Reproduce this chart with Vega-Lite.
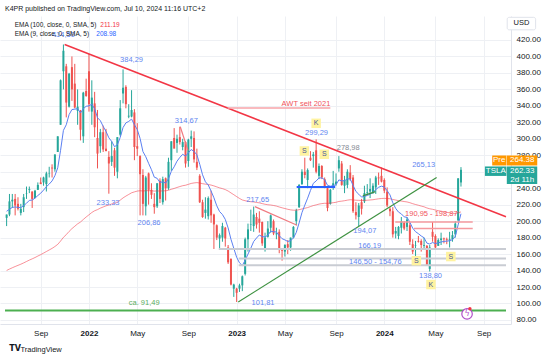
{
  "$schema": "https://vega.github.io/schema/vega-lite/v6.json",
  "width": 511,
  "height": 308,
  "autosize": {"type": "none"},
  "padding": {"left": 0, "top": 16, "right": 39, "bottom": 32},
  "background": "#ffffff",
  "title": {"text": "K4PR published on TradingView.com, Jul 10, 2024 11:16 UTC+2", "anchor": "start", "frame": "group", "fontSize": 7, "fontWeight": "normal", "color": "#131722", "font": "Liberation Sans", "dx": 5, "offset": 4},
  "config": {
    "view": {"stroke": null},
    "text": {"font": "Liberation Sans"},
    "axis": {"labelFont": "Liberation Sans", "titleFont": "Liberation Sans"}
  },
  "resolve": {"scale": {"color": "independent"}},
  "datasets": {
    "candles": [
      {"d":"2021-06-14","o":204,"h":208,"l":194,"c":208,"e9":212.0,"e100":140.1},
      {"d":"2021-06-21","o":208,"h":233,"l":206,"c":224,"e9":214.4,"e100":141.8},
      {"d":"2021-06-28","o":224,"h":233,"l":216,"c":226,"e9":216.7,"e100":143.4},
      {"d":"2021-07-05","o":227,"h":233,"l":207,"c":219,"e9":217.2,"e100":144.9},
      {"d":"2021-07-12","o":221,"h":229,"l":213,"c":215,"e9":216.8,"e100":146.3},
      {"d":"2021-07-19","o":210,"h":221,"l":207,"c":215,"e9":216.4,"e100":147.7},
      {"d":"2021-07-26","o":217,"h":233,"l":211,"c":229,"e9":218.9,"e100":149.3},
      {"d":"2021-08-02","o":233,"h":242,"l":227,"c":233.5,"e9":221.7,"e100":151.0},
      {"d":"2021-08-09","o":238,"h":242,"l":234,"c":239,"e9":225.2,"e100":152.7},
      {"d":"2021-08-16","o":236,"h":236,"l":216,"c":227,"e9":225.6,"e100":154.2},
      {"d":"2021-08-23","o":228,"h":238,"l":228,"c":237,"e9":227.9,"e100":155.8},
      {"d":"2021-08-30","o":238,"h":247,"l":238,"c":244,"e9":231.1,"e100":157.6},
      {"d":"2021-09-06","o":247,"h":253,"l":245,"c":245,"e9":233.9,"e100":159.3},
      {"d":"2021-09-13","o":247,"h":254,"l":243,"c":253,"e9":237.7,"e100":161.2},
      {"d":"2021-09-20","o":245,"h":260,"l":236,"c":258,"e9":241.8,"e100":163.1},
      {"d":"2021-09-27","o":258,"h":266,"l":253,"c":258.5,"e9":245.0,"e100":165.0},
      {"d":"2021-10-04","o":265,"h":269,"l":253,"c":264,"e9":248.8,"e100":166.9},
      {"d":"2021-10-11","o":263,"h":281,"l":260,"c":281,"e9":255.2,"e100":169.2},
      {"d":"2021-10-18","o":284,"h":303,"l":284,"c":303,"e9":264.8,"e100":171.8},
      {"d":"2021-10-25","o":317,"h":372,"l":317,"c":371,"e9":286.0,"e100":175.8},
      {"d":"2021-11-01","o":382,"h":414.5,"l":360,"c":407,"e9":310.2,"e100":180.3},
      {"d":"2021-11-08","o":388,"h":391,"l":326,"c":344,"e9":317.0,"e100":183.6},
      {"d":"2021-11-15","o":339,"h":380,"l":338,"c":379,"e9":329.4,"e100":187.5},
      {"d":"2021-11-22","o":387,"h":400,"l":346,"c":360,"e9":335.5,"e100":190.9},
      {"d":"2021-11-29","o":367,"h":391,"l":337,"c":338,"e9":336.0,"e100":193.8},
      {"d":"2021-12-06","o":334,"h":360,"l":317,"c":339,"e9":336.6,"e100":196.7},
      {"d":"2021-12-13","o":334,"h":335,"l":298,"c":311,"e9":331.5,"e100":198.9},
      {"d":"2021-12-20","o":303,"h":357,"l":295,"c":356,"e9":336.4,"e100":202.0},
      {"d":"2021-12-27","o":358,"h":373,"l":351,"c":352,"e9":339.5,"e100":205.0},
      {"d":"2022-01-03","o":382,"h":403,"l":333,"c":342,"e9":340.0,"e100":207.7},
      {"d":"2022-01-10","o":333,"h":371,"l":317,"c":350,"e9":342.0,"e100":210.5},
      {"d":"2022-01-17","o":343,"h":357,"l":302,"c":314,"e9":336.4,"e100":212.6},
      {"d":"2022-01-24","o":301,"h":335,"l":264,"c":282,"e9":325.5,"e100":214.0},
      {"d":"2022-01-31","o":291,"h":312,"l":283,"c":308,"e9":322.0,"e100":215.8},
      {"d":"2022-02-07","o":308,"h":316,"l":284,"c":287,"e9":315.0,"e100":217.2},
      {"d":"2022-02-14","o":288,"h":312,"l":285,"c":285,"e9":309.0,"e100":218.6},
      {"d":"2022-02-21","o":278,"h":285,"l":233.33,"c":270,"e9":301.2,"e100":219.6},
      {"d":"2022-02-28","o":272,"h":297,"l":267,"c":279,"e9":296.8,"e100":220.8},
      {"d":"2022-03-07","o":286,"h":289,"l":255,"c":265,"e9":290.4,"e100":221.6},
      {"d":"2022-03-14","o":260,"h":302,"l":252,"c":302,"e9":292.7,"e100":223.2},
      {"d":"2022-03-21","o":305,"h":347,"l":303,"c":337,"e9":301.6,"e100":225.5},
      {"d":"2022-03-28","o":355,"h":384.29,"l":343,"c":362,"e9":313.7,"e100":228.2},
      {"d":"2022-04-04","o":363,"h":365,"l":337,"c":342,"e9":319.3,"e100":230.4},
      {"d":"2022-04-11","o":327,"h":342,"l":325,"c":328,"e9":321.1,"e100":232.4},
      {"d":"2022-04-18","o":327,"h":359,"l":326,"c":335,"e9":323.9,"e100":234.4},
      {"d":"2022-04-25","o":332,"h":336,"l":274,"c":290,"e9":317.1,"e100":235.5},
      {"d":"2022-05-02","o":291,"h":319,"l":279,"c":288,"e9":311.3,"e100":236.5},
      {"d":"2022-05-09","o":279,"h":280,"l":207,"c":257,"e9":300.4,"e100":236.9},
      {"d":"2022-05-16","o":256,"h":263,"l":207,"c":221,"e9":284.5,"e100":236.6},
      {"d":"2022-05-23","o":218,"h":255,"l":206.86,"c":253,"e9":278.2,"e100":236.9},
      {"d":"2022-05-30","o":258,"h":259,"l":220,"c":238,"e9":270.2,"e100":237.0},
      {"d":"2022-06-06","o":238,"h":246,"l":227,"c":232,"e9":262.5,"e100":236.9},
      {"d":"2022-06-13","o":221,"h":234,"l":209,"c":217,"e9":253.4,"e100":236.5},
      {"d":"2022-06-20","o":218,"h":246,"l":216,"c":246,"e9":252.0,"e100":236.7},
      {"d":"2022-06-27","o":249,"h":252,"l":222,"c":227,"e9":247.0,"e100":236.5},
      {"d":"2022-07-04","o":223,"h":254,"l":220,"c":251,"e9":247.8,"e100":236.8},
      {"d":"2022-07-11","o":252,"h":253,"l":225,"c":240,"e9":246.2,"e100":236.8},
      {"d":"2022-07-18","o":240,"h":277,"l":238,"c":272,"e9":251.4,"e100":237.5},
      {"d":"2022-07-25","o":274,"h":297,"l":261,"c":297,"e9":260.5,"e100":238.7},
      {"d":"2022-08-01","o":301,"h":313,"l":294,"c":288,"e9":266.0,"e100":239.7},
      {"d":"2022-08-08","o":295,"h":305,"l":283,"c":300,"e9":272.8,"e100":240.9},
      {"d":"2022-08-15","o":302,"h":314.67,"l":293,"c":296,"e9":277.4,"e100":242.0},
      {"d":"2022-08-22","o":290,"h":300,"l":286,"c":296,"e9":281.2,"e100":243.0},
      {"d":"2022-08-29","o":296,"h":297,"l":265,"c":270,"e9":278.9,"e100":243.6},
      {"d":"2022-09-05","o":273,"h":300,"l":266,"c":299,"e9":282.9,"e100":244.7},
      {"d":"2022-09-12","o":300,"h":310,"l":290,"c":303,"e9":287.0,"e100":245.8},
      {"d":"2022-09-19","o":301,"h":309,"l":271,"c":275,"e9":284.6,"e100":246.4},
      {"d":"2022-09-26","o":272,"h":288,"l":262,"c":265,"e9":280.6,"e100":246.8},
      {"d":"2022-10-03","o":255,"h":257,"l":222,"c":223,"e9":269.1,"e100":246.3},
      {"d":"2022-10-10","o":223,"h":226,"l":204,"c":205,"e9":256.3,"e100":245.5},
      {"d":"2022-10-17","o":210,"h":229,"l":203,"c":214,"e9":247.8,"e100":244.9},
      {"d":"2022-10-24","o":206,"h":230,"l":202,"c":228,"e9":243.9,"e100":244.5},
      {"d":"2022-10-31","o":226,"h":237,"l":198,"c":207,"e9":236.5,"e100":243.8},
      {"d":"2022-11-07","o":208,"h":209,"l":166.19,"c":196,"e9":228.4,"e100":242.8},
      {"d":"2022-11-14","o":195,"h":196,"l":177,"c":180,"e9":218.7,"e100":241.6},
      {"d":"2022-11-21","o":179,"h":185,"l":167,"c":183,"e9":211.6,"e100":240.4},
      {"d":"2022-11-28","o":180,"h":198,"l":175,"c":194,"e9":208.0,"e100":239.5},
      {"d":"2022-12-05","o":192,"h":193,"l":169,"c":179,"e9":202.2,"e100":238.3},
      {"d":"2022-12-12","o":168,"h":171,"l":148,"c":150,"e9":191.8,"e100":236.6},
      {"d":"2022-12-19","o":154,"h":155,"l":122,"c":123,"e9":178.0,"e100":234.3},
      {"d":"2022-12-26","o":118,"h":124,"l":108,"c":123,"e9":167.0,"e100":232.1},
      {"d":"2023-01-02","o":118,"h":119,"l":101.81,"c":113,"e9":156.2,"e100":229.8},
      {"d":"2023-01-09","o":118,"h":124,"l":114,"c":122,"e9":149.4,"e100":227.6},
      {"d":"2023-01-16","o":122,"h":134,"l":115,"c":133,"e9":146.1,"e100":225.7},
      {"d":"2023-01-23","o":136,"h":180,"l":134,"c":178,"e9":152.5,"e100":224.8},
      {"d":"2023-01-30","o":178,"h":197,"l":163,"c":190,"e9":160.0,"e100":224.1},
      {"d":"2023-02-06","o":196,"h":214,"l":188,"c":196.5,"e9":167.2,"e100":223.6},
      {"d":"2023-02-13","o":194,"h":217.65,"l":187,"c":208,"e9":175.3,"e100":223.3},
      {"d":"2023-02-20","o":205,"h":210,"l":191,"c":196,"e9":179.5,"e100":222.7},
      {"d":"2023-02-27","o":203,"h":212,"l":186,"c":198,"e9":183.2,"e100":222.2},
      {"d":"2023-03-06","o":199,"h":199.5,"l":170,"c":173,"e9":181.1,"e100":221.3},
      {"d":"2023-03-13","o":167,"h":186,"l":163,"c":180,"e9":180.9,"e100":220.5},
      {"d":"2023-03-20","o":181,"h":200,"l":180,"c":191,"e9":182.9,"e100":219.9},
      {"d":"2023-03-27","o":192,"h":208,"l":186,"c":207,"e9":187.8,"e100":219.6},
      {"d":"2023-04-03","o":200,"h":202,"l":183,"c":185,"e9":187.2,"e100":219.0},
      {"d":"2023-04-10","o":184,"h":192,"l":178,"c":185,"e9":186.8,"e100":218.3},
      {"d":"2023-04-17","o":187,"h":190,"l":161,"c":165,"e9":182.4,"e100":217.2},
      {"d":"2023-04-24","o":165,"h":166,"l":152,"c":164,"e9":178.7,"e100":216.2},
      {"d":"2023-05-01","o":163,"h":172,"l":157,"c":171,"e9":177.2,"e100":215.3},
      {"d":"2023-05-08","o":172,"h":177,"l":160,"c":168,"e9":175.3,"e100":214.4},
      {"d":"2023-05-15","o":168,"h":180,"l":164,"c":180,"e9":176.3,"e100":213.7},
      {"d":"2023-05-22","o":180,"h":194,"l":179,"c":193,"e9":179.6,"e100":213.3},
      {"d":"2023-05-29","o":200,"h":215,"l":195,"c":213,"e9":186.3,"e100":213.3},
      {"d":"2023-06-05","o":217,"h":245,"l":216,"c":244,"e9":197.8,"e100":213.9},
      {"d":"2023-06-12","o":245,"h":263,"l":244,"c":260,"e9":210.3,"e100":214.8},
      {"d":"2023-06-19","o":260,"h":277,"l":252,"c":256,"e9":219.4,"e100":215.6},
      {"d":"2023-06-26","o":250,"h":264,"l":240,"c":262,"e9":227.9,"e100":216.5},
      {"d":"2023-07-03","o":277,"h":285,"l":273,"c":274,"e9":237.2,"e100":217.7},
      {"d":"2023-07-10","o":279,"h":284,"l":265,"c":281,"e9":245.9,"e100":218.9},
      {"d":"2023-07-17","o":286,"h":299.29,"l":258,"c":260,"e9":248.8,"e100":219.7},
      {"d":"2023-07-24","o":255,"h":270,"l":251,"c":267,"e9":252.4,"e100":220.7},
      {"d":"2023-07-31","o":267,"h":268,"l":251,"c":253,"e9":252.5,"e100":221.3},
      {"d":"2023-08-07","o":251,"h":253,"l":240,"c":242,"e9":250.4,"e100":221.7},
      {"d":"2023-08-14","o":240,"h":242,"l":212,"c":216,"e9":243.5,"e100":221.6},
      {"d":"2023-08-21","o":221,"h":239,"l":220,"c":238,"e9":242.4,"e100":221.9},
      {"d":"2023-08-28","o":242,"h":261,"l":238,"c":246,"e9":243.2,"e100":222.4},
      {"d":"2023-09-04","o":245,"h":258,"l":243,"c":248,"e9":244.1,"e100":222.9},
      {"d":"2023-09-11","o":264,"h":278.98,"l":260,"c":274,"e9":250.1,"e100":223.9},
      {"d":"2023-09-18","o":270,"h":273,"l":243,"c":244,"e9":248.9,"e100":224.3},
      {"d":"2023-09-25","o":243,"h":255,"l":234,"c":250,"e9":249.1,"e100":224.8},
      {"d":"2023-10-02","o":244,"h":263,"l":240,"c":260,"e9":251.3,"e100":225.5},
      {"d":"2023-10-09","o":259,"h":268,"l":249,"c":251,"e9":251.2,"e100":226.0},
      {"d":"2023-10-16","o":253,"h":256,"l":210,"c":212,"e9":243.4,"e100":225.8},
      {"d":"2023-10-23","o":211,"h":223,"l":202,"c":207,"e9":236.1,"e100":225.4},
      {"d":"2023-10-30","o":205,"h":222,"l":194.07,"c":219,"e9":232.7,"e100":225.3},
      {"d":"2023-11-06","o":223,"h":227,"l":208,"c":215,"e9":229.2,"e100":225.1},
      {"d":"2023-11-13","o":224,"h":243,"l":222,"c":234,"e9":230.1,"e100":225.2},
      {"d":"2023-11-20","o":234,"h":245,"l":232,"c":235,"e9":231.1,"e100":225.4},
      {"d":"2023-11-27","o":236,"h":252,"l":228,"c":239,"e9":232.7,"e100":225.7},
      {"d":"2023-12-04","o":235,"h":246,"l":233,"c":243,"e9":234.8,"e100":226.0},
      {"d":"2023-12-11","o":241,"h":255,"l":233,"c":253,"e9":238.4,"e100":226.6},
      {"d":"2023-12-18","o":253,"h":259,"l":244,"c":252,"e9":241.1,"e100":227.1},
      {"d":"2023-12-25","o":255,"h":265.13,"l":247,"c":248,"e9":242.5,"e100":227.5},
      {"d":"2024-01-01","o":250,"h":252,"l":234,"c":237,"e9":241.4,"e100":227.7},
      {"d":"2024-01-08","o":236,"h":241,"l":217,"c":219,"e9":236.9,"e100":227.5},
      {"d":"2024-01-15","o":215,"h":217,"l":206,"c":212,"e9":231.9,"e100":227.2},
      {"d":"2024-01-22","o":212,"h":217,"l":180,"c":184,"e9":222.3,"e100":226.3},
      {"d":"2024-01-29","o":185,"h":193,"l":179,"c":188,"e9":215.5,"e100":225.6},
      {"d":"2024-02-05","o":182,"h":194,"l":178,"c":193,"e9":211.0,"e100":224.9},
      {"d":"2024-02-12","o":192,"h":205,"l":185,"c":200,"e9":208.8,"e100":224.4},
      {"d":"2024-02-19","o":198,"h":200,"l":189,"c":191,"e9":205.2,"e100":223.8},
      {"d":"2024-02-26","o":193,"h":205,"l":188,"c":202,"e9":204.6,"e100":223.3},
      {"d":"2024-03-04","o":195,"h":198,"l":171,"c":175,"e9":198.7,"e100":222.4},
      {"d":"2024-03-11","o":172,"h":178,"l":160,"c":163,"e9":191.5,"e100":221.2},
      {"d":"2024-03-18","o":170,"h":176,"l":157,"c":170.5,"e9":187.2,"e100":220.2},
      {"d":"2024-03-25","o":176,"h":182,"l":174,"c":175,"e9":184.8,"e100":219.3},
      {"d":"2024-04-01","o":176,"h":178,"l":163,"c":171,"e9":182.0,"e100":218.3},
      {"d":"2024-04-08","o":170,"h":180,"l":167,"c":171,"e9":179.8,"e100":217.4},
      {"d":"2024-04-15","o":170,"h":171,"l":146,"c":147,"e9":173.3,"e100":216.0},
      {"d":"2024-04-22","o":142,"h":171,"l":138.8,"c":168,"e9":172.2,"e100":215.0},
      {"d":"2024-04-29","o":187,"h":198.87,"l":175,"c":181,"e9":174.0,"e100":214.4},
      {"d":"2024-05-06","o":182,"h":184,"l":167,"c":168,"e9":172.8,"e100":213.5},
      {"d":"2024-05-13","o":170,"h":179,"l":170,"c":177,"e9":173.6,"e100":212.7},
      {"d":"2024-05-20","o":177,"h":186,"l":171,"c":179,"e9":174.7,"e100":212.1},
      {"d":"2024-05-27","o":179,"h":180,"l":173,"c":178,"e9":175.4,"e100":211.4},
      {"d":"2024-06-03","o":178,"h":180,"l":172,"c":177,"e9":175.7,"e100":210.7},
      {"d":"2024-06-10","o":177,"h":187,"l":168,"c":178,"e9":176.2,"e100":210.1},
      {"d":"2024-06-17","o":178,"h":188,"l":175,"c":183,"e9":177.5,"e100":209.5},
      {"d":"2024-06-24","o":184,"h":200,"l":180,"c":197,"e9":181.4,"e100":209.3},
      {"d":"2024-07-01","o":201,"h":252,"l":200,"c":252,"e9":195.5,"e100":210.1},
      {"d":"2024-07-08","o":247,"h":265.6,"l":242,"c":262.33,"e9":208.98,"e100":211.19}
    ],
    "segs": [
      {"k":"trend","d":"2021-11-04","p":414.5,"d2":"2024-10-27","p2":205.4},
      {"k":"up","d":"2023-01-06","p":101.81,"d2":"2024-05-09","p2":253},
      {"k":"thin","d":"2022-08-16","p":314.67,"d2":"2022-09-04","p2":286},
      {"k":"thin","d":"2023-02-16","p":217.65,"d2":"2023-05-31","p2":195},
      {"k":"blue","d":"2023-05-30","p":241.5,"d2":"2023-09-02","p2":241.5},
      {"k":"green","d":"2023-11-09","p":230.6,"d2":"2023-12-10","p2":235.8},
      {"k":"awt","d":"2022-12-11","p":337.4,"d2":"2023-08-21","p2":337.4},
      {"k":"zone","d":"2024-01-28","p":198.87,"d2":"2024-08-06","p2":198.87},
      {"k":"zone","d":"2024-03-14","p":190.95,"d2":"2024-08-06","p2":190.95},
      {"k":"grey","d":"2022-11-19","p":166.19,"d2":"2024-10-27","p2":166.19},
      {"k":"grey","d":"2023-01-07","p":154.76,"d2":"2024-10-27","p2":154.76},
      {"k":"grey","d":"2023-01-07","p":146.5,"d2":"2024-10-27","p2":146.5},
      {"k":"base","d":"2021-06-10","p":91.49,"d2":"2024-10-27","p2":91.49}
    ],
    "labels": [
      {"t":"414,50","d":"2021-11-01","p":425.5,"k":"b"},
      {"t":"384,29","d":"2022-04-18","p":395.7,"k":"b"},
      {"t":"314,67","d":"2022-08-31","p":321.6,"k":"b"},
      {"t":"233,33","d":"2022-02-19","p":222,"k":"b"},
      {"t":"206,86","d":"2022-05-31","p":197.8,"k":"b"},
      {"t":"217,65","d":"2023-02-23","p":225.7,"k":"b"},
      {"t":"101,81","d":"2023-03-08","p":100.6,"k":"b"},
      {"t":"299,29","d":"2023-07-18","p":307,"k":"b"},
      {"t":"278,98","d":"2023-10-04","p":288.9,"k":"g"},
      {"t":"194,07","d":"2023-11-14","p":188.1,"k":"b"},
      {"t":"166,19","d":"2023-11-26","p":169.9,"k":"b"},
      {"t":"146,50 - 154,76","d":"2023-12-10","p":150.4,"k":"b"},
      {"t":"190,95 - 198,87","d":"2024-04-26","p":208.7,"k":"r"},
      {"t":"265,13","d":"2024-04-07","p":268.2,"k":"b"},
      {"t":"138,80","d":"2024-04-24","p":133.4,"k":"b"},
      {"t":"AWT seit 2021","d":"2023-06-22","p":342.3,"k":"r"},
      {"t":"ca. 91,49","d":"2022-05-19","p":100.6,"k":"gr"}
    ],
    "tags": [
      {"t":"S","d":"2023-06-18","p":285.2},
      {"t":"K","d":"2023-07-17","p":318.8},
      {"t":"S","d":"2023-08-06","p":281.2},
      {"t":"S","d":"2024-03-20","p":152},
      {"t":"K","d":"2024-04-25","p":123},
      {"t":"S","d":"2024-06-13","p":157}
    ],
    "legend": [
      {"t":"EMA (100, close, 0, SMA, 5)","d":"2021-07-04","p":438.2,"k":"n"},
      {"t":"211.19","d":"2022-01-31","p":438.2,"k":"v1"},
      {"t":"EMA (9, close, 0, SMA, 5)","d":"2021-07-04","p":427.3,"k":"n"},
      {"t":"208.98","d":"2022-01-21","p":427.3,"k":"v2"}
    ],
    "boxes": [
      {"k":"pre","d":"2024-09-23","d2":"2024-10-28","p":279.7,"p2":267.6},
      {"k":"pre","d":"2024-10-29","d2":"2025-01-12","p":279.7,"p2":267.6},
      {"k":"last","d":"2024-09-05","d2":"2024-10-28","p":266.4,"p2":254.9},
      {"k":"last","d":"2024-10-29","d2":"2025-01-12","p":266.4,"p2":245.1}
    ],
    "boxtext": [
      {"t":"Pre","d":"2024-10-10","p":273.7},
      {"t":"264.38","d":"2024-12-06","p":273.7},
      {"t":"TSLA","d":"2024-10-02","p":260.7},
      {"t":"262.33","d":"2024-12-06","p":260.7},
      {"t":"2d 11h","d":"2024-12-06","p":250.3}
    ],
    "usd": [
      {"t":"USD","d":"2024-10-30","d2":"2025-01-08","p":447.5,"p2":432.3,"dm":"2024-12-04","pm":440}
    ],
    "events": [
      {"d":"2024-07-23","p":87.3,"t":"ϟ"}
    ],
    "eventdot": [
      {"d":"2024-07-30","p":93.6}
    ],
    "logo": [
      {"d":"2021-07-05","p":44.8,"t":"TV"}
    ]
  },
  "layer": [
    {
      "data": {"name": "candles"},
      "mark": {"type": "rule", "strokeWidth": 1},
      "encoding": {
        "x": {"field": "d", "type": "temporal",
          "scale": {"type": "utc", "domain": [{"year":2021,"month":6,"date":10,"utc":true},{"year":2024,"month":10,"date":27,"utc":true}]},
          "axis": {
            "values": [{"year":2021,"month":9,"date":6,"utc":true},{"year":2022,"month":1,"date":3,"utc":true},{"year":2022,"month":5,"date":2,"utc":true},{"year":2022,"month":9,"date":5,"utc":true},{"year":2023,"month":1,"date":2,"utc":true},{"year":2023,"month":5,"date":1,"utc":true},{"year":2023,"month":9,"date":4,"utc":true},{"year":2024,"month":1,"date":1,"utc":true},{"year":2024,"month":5,"date":6,"utc":true},{"year":2024,"month":9,"date":2,"utc":true}],
            "tickCount": 40,
            "labelExpr": "utcmonth(datum.value) == 0 ? utcFormat(datum.value, '%Y') : utcFormat(datum.value, '%b')",
            "labelFontWeight": {"condition": {"test": "utcmonth(datum.value) == 0", "value": "bold"}, "value": "normal"},
            "labelFontSize": 8, "labelColor": "#131722", "labelPadding": 5, "labelFlush": false, "labelOverlap": false,
            "ticks": false, "domainColor": "#e0e3eb", "gridColor": "#eef0f4", "grid": true,
            "title": "TradingView", "titleFontSize": 7.5, "titleFontWeight": "normal", "titleColor": "#131722",
            "titleAnchor": "start", "titleAlign": "left", "titleX": 20, "titleY": 25, "titleBaseline": "middle"
          }
        },
        "y": {"field": "l", "type": "quantitative",
          "scale": {"domain": [75.1, 449.1], "zero": false, "nice": false},
          "axis": {
            "orient": "right", "values": [80,100,120,140,160,180,200,220,240,260,280,300,320,340,360,380,400,420],
            "tickCount": 40,
            "labelExpr": "datum.value == 260 ? '' : format(datum.value, '.2f')",
            "title": null, "ticks": false, "domainColor": "#e0e3eb", "gridColor": "#eef0f4",
            "labelFontSize": 8, "labelColor": "#131722", "labelPadding": 5, "labelOverlap": false, "labelFlush": false
          }
        },
        "y2": {"field": "h"},
        "color": {"condition": {"test": "datum.c >= datum.o", "value": "#26a69a"}, "value": "#ef5350"}
      }
    },
    {
      "data": {"name": "candles"},
      "mark": {"type": "bar", "size": 2},
      "encoding": {
        "x": {"field": "d", "type": "temporal"},
        "y": {"field": "o", "type": "quantitative"},
        "y2": {"field": "c"},
        "color": {"condition": {"test": "datum.c >= datum.o", "value": "#26a69a"}, "value": "#ef5350"}
      }
    },
    {
      "data": {"name": "candles"},
      "mark": {"type": "line", "stroke": "#f23645", "strokeWidth": 1, "opacity": 0.55},
      "encoding": {
        "x": {"field": "d", "type": "temporal"},
        "y": {"field": "e100", "type": "quantitative"}
      }
    },
    {
      "data": {"name": "candles"},
      "mark": {"type": "line", "stroke": "#5b80f2", "strokeWidth": 1},
      "encoding": {
        "x": {"field": "d", "type": "temporal"},
        "y": {"field": "e9", "type": "quantitative"}
      }
    },
    {
      "data": {"name": "segs"},
      "transform": [{"filter": "indexof(['grey','base','blue'], datum.k) >= 0"}],
      "mark": {"type": "rule", "strokeWidth": 2, "clip": true},
      "encoding": {
        "x": {"field": "d", "type": "temporal"},
        "x2": {"field": "d2"},
        "y": {"field": "p", "type": "quantitative"},
        "y2": {"field": "p2"},
        "color": {"field": "k", "type": "nominal", "scale": {"domain": ["grey","base","blue"], "range": ["#c9ccd3","#4caf50","#2962ff"]}, "legend": null}
      }
    },
    {
      "data": {"name": "segs"},
      "transform": [{"filter": "indexof(['trend','awt','zone'], datum.k) >= 0"}],
      "mark": {"type": "rule", "strokeWidth": 1.5, "clip": true},
      "encoding": {
        "x": {"field": "d", "type": "temporal"},
        "x2": {"field": "d2"},
        "y": {"field": "p", "type": "quantitative"},
        "y2": {"field": "p2"},
        "color": {"field": "k", "type": "nominal", "scale": {"domain": ["trend","awt","zone"], "range": ["#f23645","#f7a3a8","#f5999e"]}, "legend": null}
      }
    },
    {
      "data": {"name": "segs"},
      "transform": [{"filter": "indexof(['up','thin','green'], datum.k) >= 0"}],
      "mark": {"type": "rule", "strokeWidth": 1.2, "clip": true},
      "encoding": {
        "x": {"field": "d", "type": "temporal"},
        "x2": {"field": "d2"},
        "y": {"field": "p", "type": "quantitative"},
        "y2": {"field": "p2"},
        "color": {"field": "k", "type": "nominal", "scale": {"domain": ["up","thin","green"], "range": ["#3d9140","#f07a80","#3d9140"]}, "legend": null}
      }
    },
    {
      "mark": {"type": "rule", "stroke": "#ff9800", "strokeWidth": 1, "strokeDash": [1, 2]},
      "encoding": {"y": {"datum": 264.38, "type": "quantitative"}}
    },
    {
      "mark": {"type": "rule", "stroke": "#26a69a", "strokeWidth": 1, "strokeDash": [1, 2]},
      "encoding": {"y": {"datum": 262.33, "type": "quantitative"}}
    },
    {
      "data": {"name": "labels"},
      "mark": {"type": "text", "fontSize": 7.5, "align": "center", "baseline": "middle"},
      "encoding": {
        "x": {"field": "d", "type": "temporal"},
        "y": {"field": "p", "type": "quantitative"},
        "text": {"field": "t"},
        "color": {"field": "k", "type": "nominal", "scale": {"domain": ["b","g","r","gr"], "range": ["#5f86f0","#868993","#f0545c","#5cad60"]}, "legend": null}
      }
    },
    {
      "data": {"name": "tags"},
      "mark": {"type": "square", "filled": true, "color": "#fff3a0", "size": 90, "opacity": 1},
      "encoding": {
        "x": {"field": "d", "type": "temporal"},
        "y": {"field": "p", "type": "quantitative"}
      }
    },
    {
      "data": {"name": "tags"},
      "mark": {"type": "text", "fontSize": 7, "align": "center", "baseline": "middle", "color": "#4a5a9a"},
      "encoding": {
        "x": {"field": "d", "type": "temporal"},
        "y": {"field": "p", "type": "quantitative"},
        "text": {"field": "t"}
      }
    },
    {
      "data": {"name": "legend"},
      "mark": {"type": "text", "fontSize": 6.5, "align": "left", "baseline": "middle"},
      "encoding": {
        "x": {"field": "d", "type": "temporal"},
        "y": {"field": "p", "type": "quantitative"},
        "text": {"field": "t"},
        "color": {"field": "k", "type": "nominal", "scale": {"domain": ["n","v1","v2"], "range": ["#131722","#f23645","#2962ff"]}, "legend": null}
      }
    },
    {
      "data": {"name": "boxes"},
      "mark": {"type": "rect"},
      "encoding": {
        "x": {"field": "d", "type": "temporal"},
        "x2": {"field": "d2"},
        "y": {"field": "p", "type": "quantitative"},
        "y2": {"field": "p2"},
        "color": {"field": "k", "type": "nominal", "scale": {"domain": ["pre","last"], "range": ["#ff9800","#26a69a"]}, "legend": null}
      }
    },
    {
      "data": {"name": "boxtext"},
      "mark": {"type": "text", "fontSize": 8, "align": "center", "baseline": "middle", "color": "#ffffff"},
      "encoding": {
        "x": {"field": "d", "type": "temporal"},
        "y": {"field": "p", "type": "quantitative"},
        "text": {"field": "t"}
      }
    },
    {
      "data": {"name": "usd"},
      "mark": {"type": "rect", "fill": "#ffffff", "stroke": "#e0e3eb", "strokeWidth": 1, "cornerRadius": 2},
      "encoding": {
        "x": {"field": "d", "type": "temporal"},
        "x2": {"field": "d2"},
        "y": {"field": "p", "type": "quantitative"},
        "y2": {"field": "p2"}
      }
    },
    {
      "data": {"name": "usd"},
      "mark": {"type": "text", "fontSize": 7.5, "align": "center", "baseline": "middle", "color": "#131722"},
      "encoding": {
        "x": {"field": "dm", "type": "temporal"},
        "y": {"field": "pm", "type": "quantitative"},
        "text": {"field": "t"}
      }
    },
    {
      "data": {"name": "events"},
      "mark": {"type": "point", "shape": "circle", "size": 110, "fill": "#ffffff", "fillOpacity": 1, "stroke": "#b04fc9", "strokeWidth": 1.2, "opacity": 1},
      "encoding": {
        "x": {"field": "d", "type": "temporal"},
        "y": {"field": "p", "type": "quantitative"}
      }
    },
    {
      "data": {"name": "events"},
      "mark": {"type": "text", "fontSize": 8, "align": "center", "baseline": "middle", "color": "#b04fc9", "font": "DejaVu Sans"},
      "encoding": {
        "x": {"field": "d", "type": "temporal"},
        "y": {"field": "p", "type": "quantitative"},
        "text": {"field": "t"}
      }
    },
    {
      "data": {"name": "eventdot"},
      "mark": {"type": "circle", "size": 12, "color": "#f23645", "opacity": 1},
      "encoding": {
        "x": {"field": "d", "type": "temporal"},
        "y": {"field": "p", "type": "quantitative"}
      }
    },
    {
      "data": {"name": "logo"},
      "mark": {"type": "text", "fontSize": 8, "fontWeight": "bold", "align": "center", "baseline": "middle", "color": "#131722", "font": "DejaVu Sans"},
      "encoding": {
        "x": {"field": "d", "type": "temporal"},
        "y": {"field": "p", "type": "quantitative"},
        "text": {"field": "t"}
      }
    }
  ]
}
